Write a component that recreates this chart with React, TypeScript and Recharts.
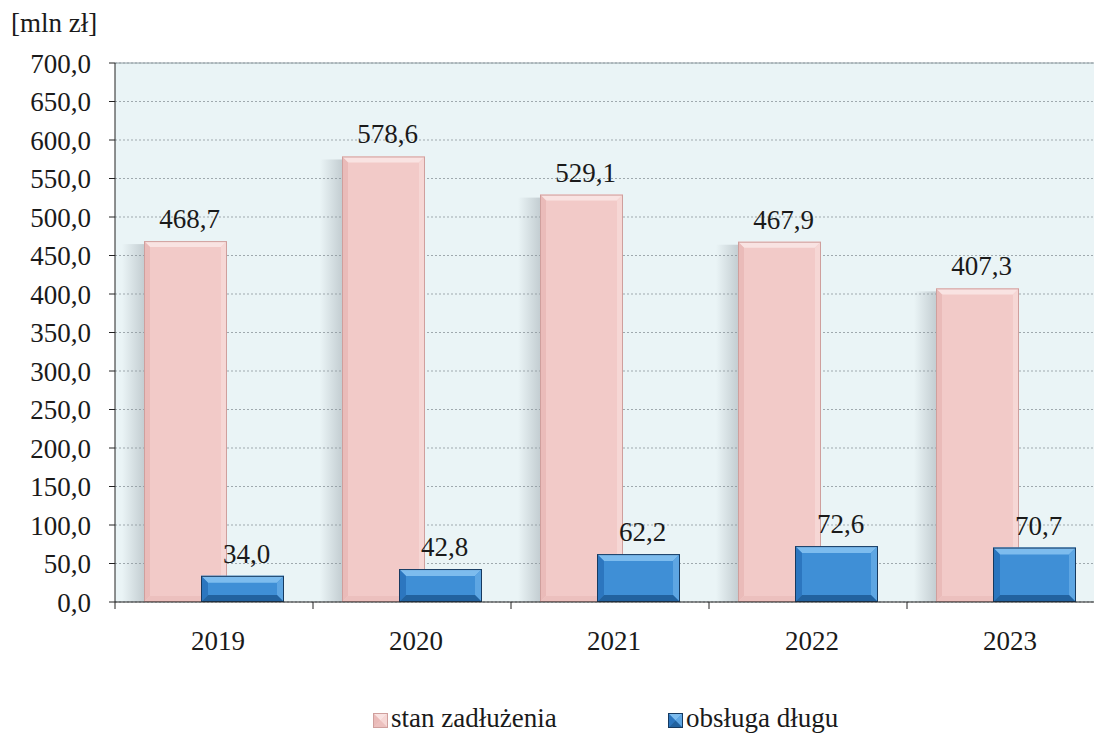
import { Bar, BarChart, CartesianGrid, LabelList, ReferenceLine, XAxis, YAxis } from "recharts";

const YEARS = ["2019", "2020", "2021", "2022", "2023"];
const DEBT = [468.7, 578.6, 529.1, 467.9, 407.3];
const SERVICE = [34.0, 42.8, 62.2, 72.6, 70.7];
const Y_TICKS = [0, 50, 100, 150, 200, 250, 300, 350, 400, 450, 500, 550, 600, 650, 700];
const SERIES_NAMES = ["stan zadłużenia", "obsługa długu"];

const DATA = YEARS.map((year, i) => ({ year, debt: DEBT[i], service: SERVICE[i] }));

const FONT = "Liberation Serif";
const FS = 27;
const CHART_W = 1120;
const CHART_H = 735;
const MARGIN = { top: 63, right: 15, bottom: 0, left: 0 };
const Y_AXIS_W = 115;
const PLOT_W = CHART_W - MARGIN.left - MARGIN.right - Y_AXIS_W;
const BAND = PLOT_W / YEARS.length;

const fmt = (v: number) => v.toFixed(1).replace(".", ",");

type Bevel = { face: string; top: string; left: string; right: string; bottom: string; edge: string; size: number };

const PINK: Bevel = {
  face: "#f2cac8",
  top: "#f9e3e2",
  left: "#eabbb9",
  right: "#f6d7d5",
  bottom: "#ecc0be",
  edge: "#cf9f9d",
  size: 6,
};

const BLUE: Bevel = {
  face: "#3f8fd6",
  top: "#7dbcee",
  left: "#2c76bf",
  right: "#5ea6e3",
  bottom: "#22629f",
  edge: "#173a60",
  size: 7,
};

function bevelShape(c: Bevel, shadow: boolean) {
  return (props: any) => {
    const { x, y, width: w, height: h } = props;
    if (!h || h <= 0) return <g />;
    const b = Math.min(c.size, w / 2, h / 2);
    return (
      <g>
        {shadow && <rect x={x - 22} y={y + 3} width={22} height={h - 3} fill="url(#barShadow)" />}
        <rect x={x} y={y} width={w} height={h} fill={c.face} />
        <polygon points={`${x},${y} ${x + w},${y} ${x + w - b},${y + b} ${x + b},${y + b}`} fill={c.top} />
        <polygon points={`${x},${y} ${x + b},${y + b} ${x + b},${y + h - b} ${x},${y + h}`} fill={c.left} />
        <polygon points={`${x + w},${y} ${x + w},${y + h} ${x + w - b},${y + h - b} ${x + w - b},${y + b}`} fill={c.right} />
        <polygon points={`${x},${y + h} ${x + w},${y + h} ${x + w - b},${y + h - b} ${x + b},${y + h - b}`} fill={c.bottom} />
        <rect x={x + 0.5} y={y + 0.5} width={w - 1} height={h - 1} fill="none" stroke={c.edge} strokeWidth={1} />
      </g>
    );
  };
}

const valueLabel = (props: any) => {
  const { x, y, width, value } = props;
  return (
    <text x={x + width / 2 + 4} y={y - 13} textAnchor="middle" fontSize={FS} fontFamily={FONT} fill="#1a1a1a">
      {fmt(value)}
    </text>
  );
};

const YearTick = (props: any) => {
  const { x, y, payload, index } = props;
  const left = x - BAND / 2;
  return (
    <g>
      <line x1={left} y1={y} x2={left} y2={y + 7} stroke="#222" />
      {index === YEARS.length - 1 && <line x1={left + BAND} y1={y} x2={left + BAND} y2={y + 7} stroke="#222" />}
      <text x={x + 4} y={y + 48} textAnchor="middle" fontSize={FS} fontFamily={FONT} fill="#1a1a1a">
        {payload.value}
      </text>
    </g>
  );
};

function LegendIcon({ c }: { c: Bevel }) {
  return (
    <svg width={15} height={15} style={{ display: "inline-block", verticalAlign: "-1px", marginRight: 3 }}>
      <rect x={0} y={0} width={15} height={15} fill={c.face} />
      <polygon points="0,0 15,0 7.5,7.5" fill={c.top} />
      <polygon points="0,0 7.5,7.5 0,15" fill={c.left} />
      <polygon points="15,0 15,15 7.5,7.5" fill={c.right} />
      <polygon points="0,15 15,15 7.5,7.5" fill={c.bottom} />
      <rect x={0.5} y={0.5} width={14} height={14} fill="none" stroke={c.edge} />
    </svg>
  );
}

export default function App() {
  return (
    <div
      style={{
        position: "absolute",
        left: 0,
        top: 0,
        width: 1094,
        height: 735,
        overflow: "hidden",
        background: "#fff",
        fontFamily: FONT,
      }}
    >
      <div style={{ position: "absolute", left: 11, top: 8, fontSize: FS, color: "#1a1a1a" }}>[mln zł]</div>
      <BarChart width={CHART_W} height={CHART_H} data={DATA} margin={MARGIN} barSize={83} barGap={-26}>
        <defs>
          <linearGradient id="barShadow" x1="0" y1="0" x2="1" y2="0">
            <stop offset="0%" stopColor="#8a949b" stopOpacity={0} />
            <stop offset="100%" stopColor="#8a949b" stopOpacity={0.4} />
          </linearGradient>
        </defs>
        <CartesianGrid vertical={false} stroke="#9fa9ae" strokeDasharray="2 2" fill="#eaf4f6" />
        <ReferenceLine y={700} stroke="#8e9ba0" />
        <XAxis
          dataKey="year"
          axisLine={{ stroke: "#222" }}
          tickLine={false}
          tickSize={0}
          tickMargin={0}
          height={CHART_H - 602 - MARGIN.bottom}
          interval={0}
          tick={<YearTick />}
        />
        <YAxis
          width={Y_AXIS_W}
          domain={[0, 700]}
          ticks={Y_TICKS}
          interval={0}
          tickFormatter={fmt}
          axisLine={{ stroke: "#222" }}
          tickLine={{ stroke: "#222" }}
          tickSize={6}
          tickMargin={18}
          tick={{ fontSize: FS, fontFamily: FONT, fill: "#1a1a1a" }}
        />
        <Bar dataKey="debt" name={SERIES_NAMES[0]} shape={bevelShape(PINK, true)} isAnimationActive={false}>
          <LabelList dataKey="debt" content={valueLabel} />
        </Bar>
        <Bar dataKey="service" name={SERIES_NAMES[1]} shape={bevelShape(BLUE, false)} isAnimationActive={false}>
          <LabelList dataKey="service" content={valueLabel} />
        </Bar>
      </BarChart>
      <div style={{ position: "absolute", top: 703, left: 373, fontSize: FS, color: "#1a1a1a", whiteSpace: "nowrap" }}>
        <LegendIcon c={PINK} />
        {SERIES_NAMES[0]}
      </div>
      <div style={{ position: "absolute", top: 703, left: 668, fontSize: FS, color: "#1a1a1a", whiteSpace: "nowrap" }}>
        <LegendIcon c={BLUE} />
        {SERIES_NAMES[1]}
      </div>
    </div>
  );
}
